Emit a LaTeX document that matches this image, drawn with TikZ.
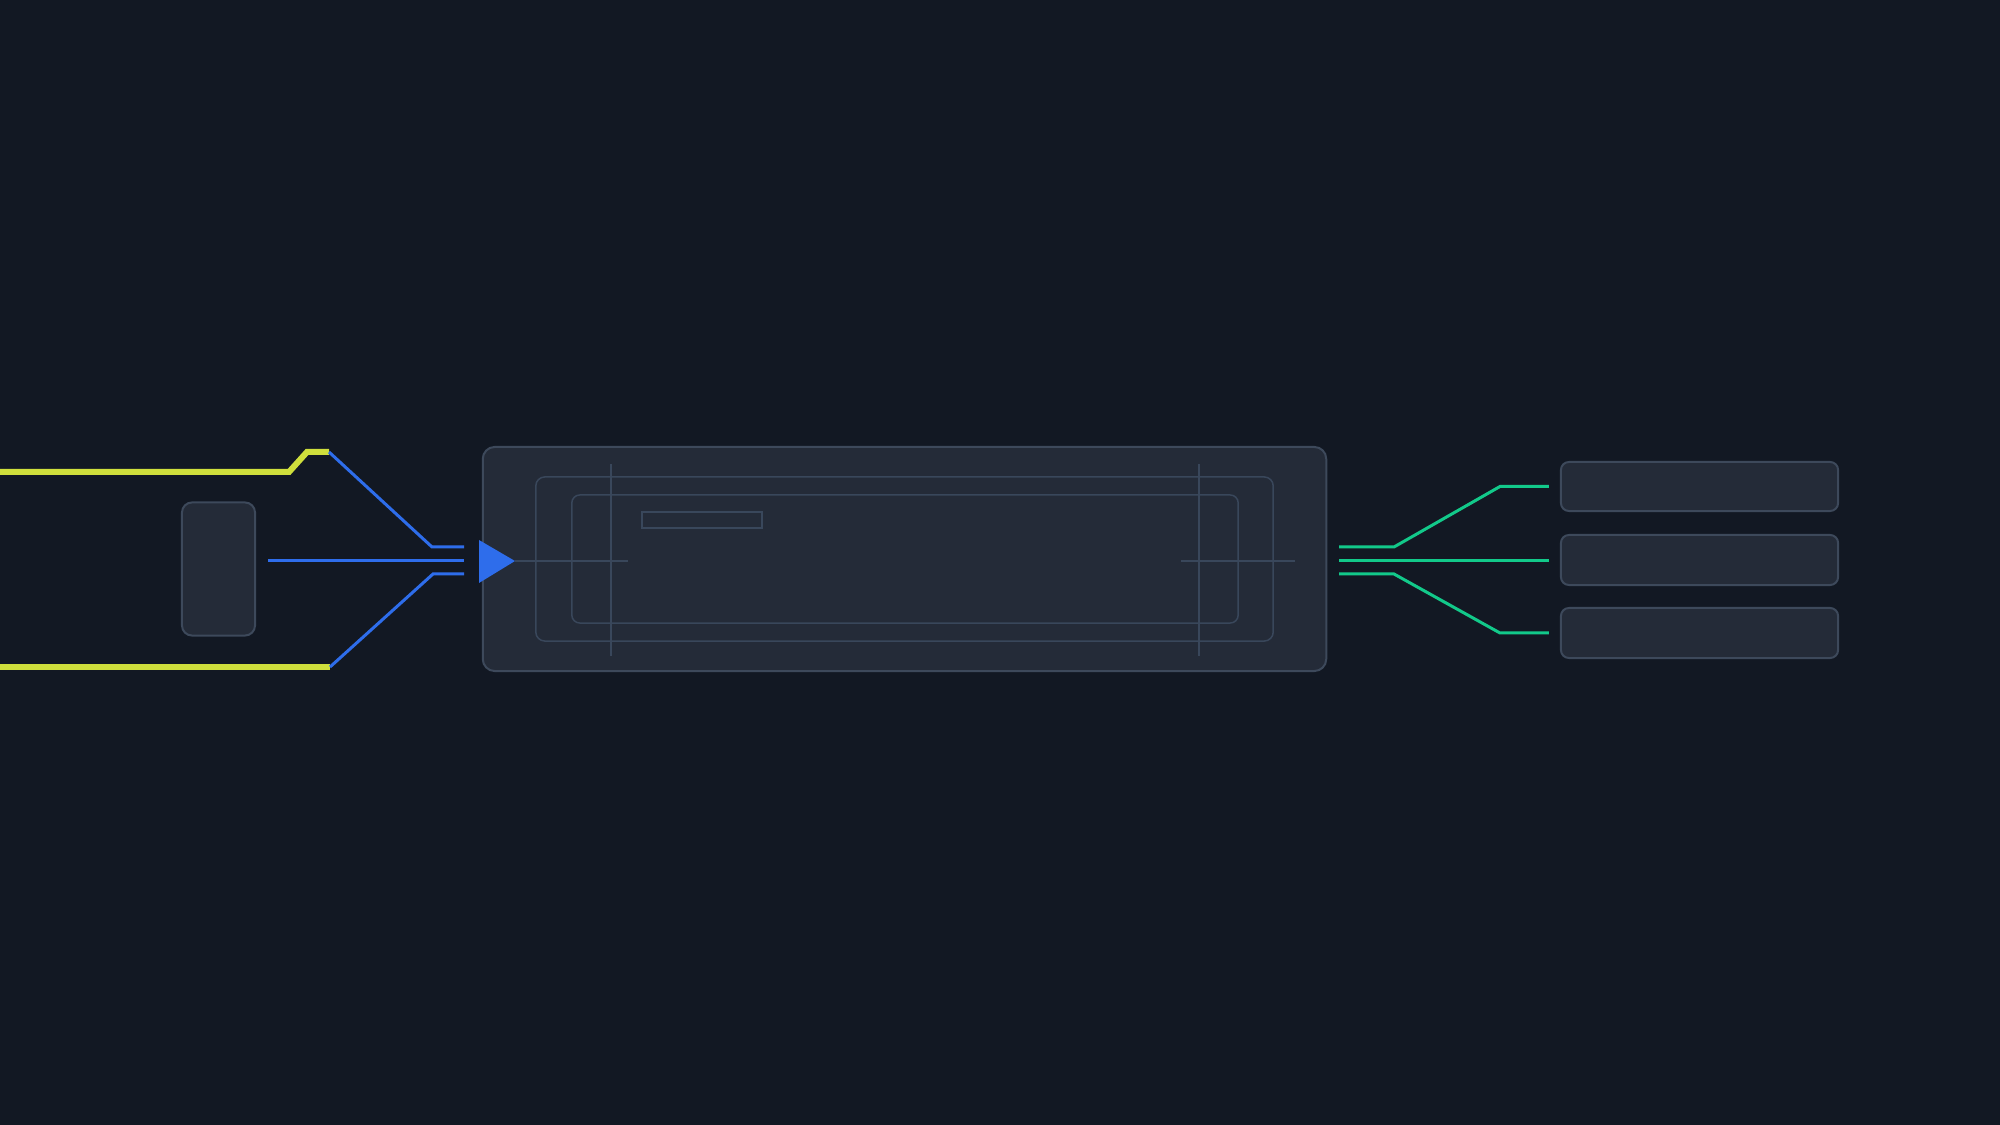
\documentclass[tikz,border=0pt]{standalone}
\usetikzlibrary{positioning}
\definecolor{bgdark}{HTML}{121823}
\definecolor{panelfill}{HTML}{242B38}
\definecolor{panelline}{HTML}{3D495B}
\definecolor{guideline}{HTML}{39475B}
\definecolor{feedyellow}{HTML}{CFDF3C}
\definecolor{wireblue}{HTML}{2E6DEB}
\definecolor{outgreen}{HTML}{12C98A}
\begin{document}
\begin{tikzpicture}[x=0.01cm,y=-0.01cm,
    panel/.style={draw=panelline,fill=panelfill,line width=0.02cm,rounded corners=0.1cm,inner sep=0pt},
    frame/.style={draw=guideline,line width=0.015cm,rounded corners=0.09cm,inner sep=0pt},
    guide/.style={draw=guideline,line width=0.015cm},
    feed/.style={draw=feedyellow,line width=0.06cm},
    wire/.style={draw=wireblue,line width=0.03cm},
    outwire/.style={draw=outgreen,line width=0.03cm}]
% Background
\clip (0,0) rectangle (2000,1125);
\fill[bgdark] (0,0) rectangle (2000,1125);

% Gate block on the left
\node[panel,minimum width=0.73cm,minimum height=1.33cm] (gate) at (218.5,569) {};

% Main housing and its inner frames
\node[panel,rounded corners=0.12cm,minimum width=8.43cm,minimum height=2.24cm] (housing) at (904.5,559) {};
\node[frame,minimum width=7.37cm,minimum height=1.64cm] (frameouter) at (904.5,559) {};
\node[frame,rounded corners=0.08cm,minimum width=6.66cm,minimum height=1.28cm] (frameinner) at (905,559) {};
\node[guide,rounded corners=0pt,minimum width=1.20cm,minimum height=0.16cm,inner sep=0pt] (slot) at (702,520) {};

% Guide crosses
\draw[guide] (611,464) -- (611,656);
\draw[guide] (515,561) -- (628,561);
\draw[guide] (1199,464) -- (1199,656);
\draw[guide] (1181,561) -- (1295,561);

% Input marker
\fill[wireblue] (479,540) -- (515,561) -- (479,583) -- cycle;
\coordinate (intip) at (479,561);

% Output boxes on the right
\node[panel,rounded corners=0.08cm,minimum width=2.77cm,minimum height=0.49cm] (outa) at (1699.5,486.5) {};
\node[panel,rounded corners=0.08cm,minimum width=2.77cm,minimum height=0.50cm] (outb) at (1699.5,560) {};
\node[panel,rounded corners=0.08cm,minimum width=2.77cm,minimum height=0.50cm] (outc) at (1699.5,633) {};

% Yellow feed lines
\coordinate (feedtopstart) at (0,472);
\coordinate (feedtop) at (329,452);
\coordinate (feedbotstart) at (0,667);
\coordinate (feedbot) at (330,667);
\draw[feed] (feedtopstart) -- (289,472) -- (307,452) -- (feedtop);
\draw[feed] (feedbotstart) -- (feedbot);

% Blue wires into the marker
\coordinate (inup) at (464,547);
\coordinate (inmid) at (464,561);
\coordinate (indown) at (464,574);
\coordinate (gateout) at (268,561);
\draw[wire] (feedtop) -- (432,547) -- (inup);
\draw[wire] (gateout) -- (inmid);
\draw[wire] (feedbot) -- (433,574) -- (indown);

% Green wires to the output boxes
\coordinate (outup) at (1339,547);
\coordinate (outmid) at (1339,561);
\coordinate (outdown) at (1339,574);
\draw[outwire] (outup) -- (1394,547) -- (1500,486.5) -- ([xshift=-0.11cm]outa.west);
\draw[outwire] (outmid) -- ([xshift=-0.11cm]outb.west |- outmid);
\draw[outwire] (outdown) -- (1394,574) -- (1500,633) -- ([xshift=-0.11cm]outc.west);
\end{tikzpicture}
\end{document}
